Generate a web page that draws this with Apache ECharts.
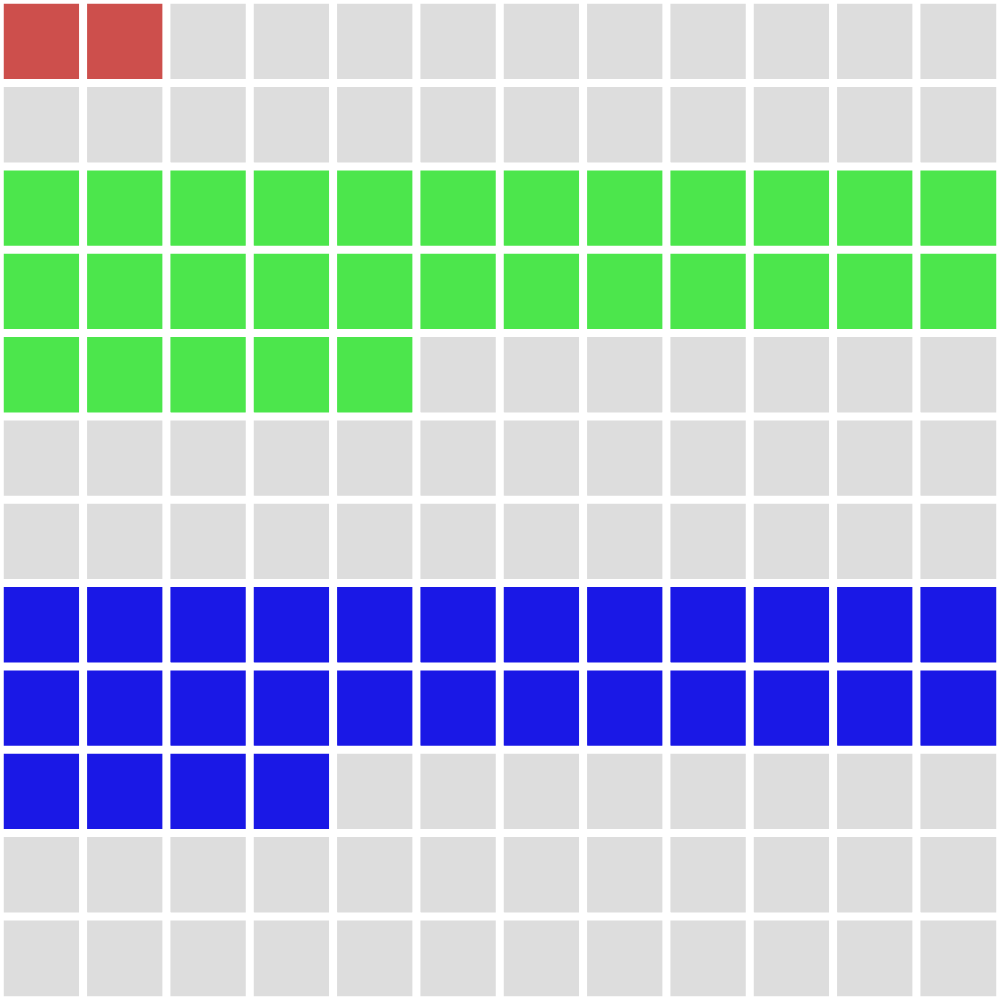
<!DOCTYPE html>
<html><head><meta charset="utf-8">
<script src="https://cdn.jsdelivr.net/npm/echarts@6/dist/echarts.min.js"></script>
<style>html,body{margin:0;padding:0;background:#fff}#c{width:1000px;height:1000px}</style>
</head><body><div id="c"></div>
<script>
// Waffle layout: one string per row (top to bottom), '.' = empty, R/G/B = group
const rows = [
  "RR..........",
  "............",
  "GGGGGGGGGGGG",
  "GGGGGGGGGGGG",
  "GGGGG.......",
  "............",
  "............",
  "BBBBBBBBBBBB",
  "BBBBBBBBBBBB",
  "BBBB........",
  "............",
  "............"
];
const groupCodes = ['.', 'R', 'G', 'B'];
const groupColors = ['#dddddd', '#cd4f4c', '#4ce64c', '#1a18e6'];
const xCats = Array.from({length: 12}, (_, i) => String(i));
const yCats = Array.from({length: 12}, (_, i) => String(i));

const data = [];
rows.forEach((r, ri) => {
  for (let ci = 0; ci < r.length; ci++) {
    data.push([ci, 11 - ri, groupCodes.indexOf(r[ci])]);
  }
});

const chart = echarts.init(document.getElementById('c'), null, {renderer: 'canvas'});
chart.setOption({
  animation: false,
  backgroundColor: '#ffffff',
  grid: {left: 0, right: 0, top: 0, bottom: 0},
  xAxis: {type: 'category', data: xCats, show: false},
  yAxis: {type: 'category', data: yCats, show: false},
  visualMap: {
    type: 'piecewise', show: false, dimension: 2,
    pieces: groupColors.map((c, i) => ({value: i, color: c}))
  },
  series: [{
    type: 'heatmap',
    data: data,
    itemStyle: {borderColor: '#ffffff', borderWidth: 8},
    emphasis: {disabled: true}
  }]
});
</script></body></html>
